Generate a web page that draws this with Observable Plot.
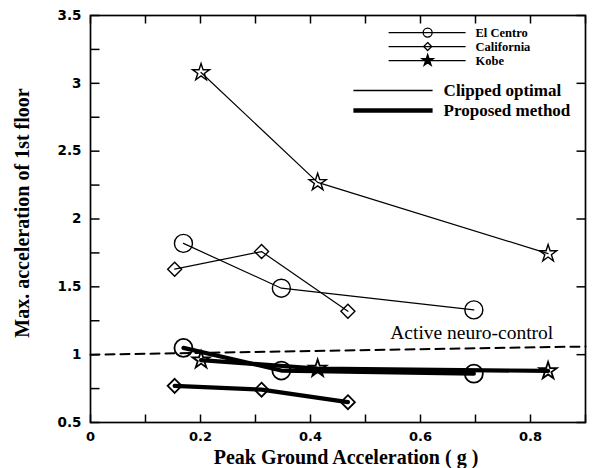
<!DOCTYPE html>
<html><head><meta charset="utf-8">
<script src="https://cdn.jsdelivr.net/npm/d3@7"></script>
<script src="https://cdn.jsdelivr.net/npm/@observablehq/plot@0.6"></script>
<style>body{margin:0;background:#fff}</style>
</head><body><div id="chart"></div>
<script>
// ---- data ----
const elCentroPGA = [0.169, 0.347, 0.697];
const elCentroClipped = [1.82, 1.49, 1.33];
const elCentroProposed = [1.05, 0.883, 0.86];

const californiaPGA = [0.153, 0.311, 0.468];
const californiaClipped = [1.63, 1.76, 1.32];
const californiaProposed = [0.77, 0.742, 0.65];

const kobePGA = [0.201, 0.413, 0.832];
const kobeClipped = [3.08, 2.27, 1.745];
const kobeProposed = [0.96, 0.898, 0.88];

const neuroX = [0, 0.9];
const neuroY = [1.0, 1.06];

const xMajor = [0, 0.2, 0.4, 0.6, 0.8];
const yMajor = [0.5, 1, 1.5, 2, 2.5, 3, 3.5];

const quakeNames = ["El Centro", "California", "Kobe"];
const quakeSymbols = ["circle", "diamond2", "star"];

// ---- build tables ----
const quakes = [
  {name: "El Centro", pga: elCentroPGA, clipped: elCentroClipped, proposed: elCentroProposed, symbol: "circle", r: 9},
  {name: "California", pga: californiaPGA, clipped: californiaClipped, proposed: californiaProposed, symbol: "diamond2", r: 6.3},
  {name: "Kobe", pga: kobePGA, clipped: kobeClipped, proposed: kobeProposed, symbol: "star", r: 5.4}
];
const rows = (q, key) => q.pga.map((x, i) => ({x, y: q[key][i]}));
const neuroRows = neuroX.map((x, i) => ({x, y: neuroY[i]}));
const xDomain = [0, 0.9], yDomain = [0.5, 3.5];
const xMinor = d3.range(0, 0.9001, 0.1);
const yMinor = d3.range(0.5, 3.5001, 0.25);

const W = 596, H = 468, mL = 90, mR = 11, mT = 15, mB = 46;
const innerW = W - mL - mR, innerH = H - mT - mB;
const tickLenY = 8 * (yDomain[1] - yDomain[0]) / innerH;
const tickLenX = 9 * (xDomain[1] - xDomain[0]) / innerW;
const serif = "'Liberation Serif', 'Times New Roman', serif";
const sans = "'DejaVu Sans', sans-serif";

// inward tick segments (bottom, top, left, right)
const tickRows = [
  ...xMinor.map(v => ({x1: v, x2: v, y1: yDomain[0], y2: yDomain[0] + tickLenY})),
  ...xMinor.map(v => ({x1: v, x2: v, y1: yDomain[1], y2: yDomain[1] - tickLenY})),
  ...yMinor.map(v => ({x1: xDomain[0], x2: xDomain[0] + tickLenX, y1: v, y2: v})),
  ...yMajor.map(v => ({x1: xDomain[1], x2: xDomain[1] - tickLenX, y1: v, y2: v}))
];

// legend (data-space positions)
const legendQuake = quakeNames.map((name, i) => ({name, symbol: quakeSymbols[i], y: [3.374, 3.271, 3.168][i]}));
const legendMethod = [
  {name: "Clipped optimal", w: 1.3, y: 2.947},
  {name: "Proposed method", w: 4.5, y: 2.80}
];

const marks = [
  Plot.frame({stroke: "black", strokeWidth: 1.7}),
  Plot.link(tickRows, {x1: "x1", x2: "x2", y1: "y1", y2: "y2", stroke: "black", strokeWidth: 1.5}),
  // tick labels
  Plot.axisX({ticks: xMajor, tickSize: 0, tickPadding: 9, tickFormat: d3.format("~g"), label: null,
    fontFamily: sans, fontWeight: "bold", fontSize: 13, fill: "black"}),
  Plot.axisY({ticks: yMajor, tickSize: 0, tickPadding: 9, tickFormat: d3.format("~g"), label: null,
    fontFamily: sans, fontWeight: "bold", fontSize: 13.5, fill: "black"}),
  // axis titles
  Plot.text(["Peak Ground Acceleration ( g )"], {frameAnchor: "bottom", dy: 41, dx: 8, textAnchor: "middle", lineAnchor: "bottom",
    fontFamily: serif, fontWeight: "bold", fontSize: 20, fill: "black"}),
  Plot.text(["Max. acceleration of 1st floor"], {frameAnchor: "left", dx: -68, dy: -6, rotate: -90, textAnchor: "middle",
    fontFamily: serif, fontWeight: "bold", fontSize: 20, fill: "black"}),
  // active neuro-control reference
  Plot.line(neuroRows, {x: "x", y: "y", stroke: "black", strokeWidth: 2, strokeDasharray: "9,6"}),
  Plot.text(["Active neuro-control"], {x: 0.545, y: 1.163, textAnchor: "start",
    fontFamily: serif, fontSize: 19.5, fill: "black"})
];

for (const q of quakes) {
  marks.push(
    Plot.line(rows(q, "clipped"), {x: "x", y: "y", stroke: "black", strokeWidth: 1.2}),
    Plot.line(rows(q, "proposed"), {x: "x", y: "y", stroke: "black", strokeWidth: 4.2}),
    Plot.dot(rows(q, "clipped"), {x: "x", y: "y", symbol: () => q.symbol, r: q.r, stroke: "black", fill: "none", strokeWidth: 1.4}),
    Plot.dot(rows(q, "proposed"), {x: "x", y: "y", symbol: () => q.symbol, r: q.r, stroke: "black", fill: "none", strokeWidth: 1.8})
  );
}

// legend
marks.push(
  Plot.link(legendQuake, {x1: 0.542, x2: 0.682, y1: "y", y2: "y", stroke: "black", strokeWidth: 1.2}),
  Plot.dot(legendQuake.filter(d => d.symbol === "circle"), {x: 0.613, y: "y", symbol: "circle", r: 4.5, stroke: "black", fill: "none", strokeWidth: 1.3}),
  Plot.dot(legendQuake.filter(d => d.symbol === "diamond2"), {x: 0.613, y: "y", symbol: "diamond2", r: 3.6, stroke: "black", fill: "none", strokeWidth: 1.3}),
  Plot.dot(legendQuake.filter(d => d.symbol === "star"), {x: 0.613, y: "y", symbol: "star", r: 3.4, stroke: "black", fill: "black"}),
  Plot.text(legendQuake, {x: 0.70, y: "y", text: "name", textAnchor: "start",
    fontFamily: serif, fontWeight: "bold", fontSize: 12.5, fill: "black"}),
  Plot.link(legendMethod, {x1: 0.478, x2: 0.622, y1: "y", y2: "y", stroke: "black", strokeWidth: d => d.w}),
  Plot.text(legendMethod, {x: 0.642, y: "y", text: "name", textAnchor: "start",
    fontFamily: serif, fontWeight: "bold", fontSize: 17, fill: "black"})
);

const chart = Plot.plot({
  width: W, height: H,
  marginLeft: mL, marginRight: mR, marginTop: mT, marginBottom: mB,
  x: {domain: xDomain},
  y: {domain: yDomain},
  style: {background: "white", color: "black"},
  marks
});
document.getElementById("chart").appendChild(chart);
</script>
</body></html>
